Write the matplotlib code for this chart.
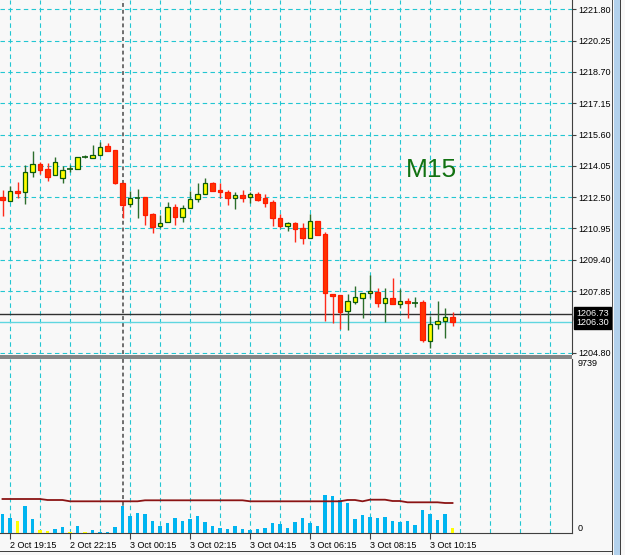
import numpy as np
import matplotlib.pyplot as plt
from matplotlib.patches import Rectangle
import matplotlib.transforms as mtransforms

# M15 bars, left to right
opens = [1212.51, 1212.32, 1212.81, 1212.74, 1213.73, 1214.13, 1213.88, 1213.58, 1213.43, 1213.88,
         1213.91, 1214.49, 1214.45, 1214.59, 1215.02, 1214.83, 1213.19, 1212.16, 1212.44, 1212.49,
         1211.65, 1211.07, 1211.26, 1212.00, 1211.53, 1211.95, 1212.39, 1212.64, 1213.19, 1212.85,
         1212.74, 1212.47, 1212.61, 1212.52, 1212.66, 1212.44, 1212.25, 1211.45, 1211.09, 1211.21,
         1210.96, 1210.46, 1211.33, 1210.68, 1207.69, 1207.66, 1206.88, 1207.32, 1207.49, 1207.74,
         1207.82, 1207.25, 1207.49, 1207.20, 1207.37, 1207.28, 1207.30, 1205.38, 1206.21, 1206.38,
         1206.55]
highs = [1212.85, 1213.05, 1213.27, 1214.09, 1214.80, 1214.23, 1214.18, 1214.47, 1214.04, 1214.09,
         1214.50, 1214.59, 1215.08, 1215.25, 1215.17, 1214.83, 1213.19, 1212.81, 1212.90, 1212.51,
         1211.70, 1211.62, 1212.28, 1212.15, 1212.11, 1212.81, 1213.19, 1213.43, 1213.24, 1213.19,
         1212.85, 1212.74, 1212.85, 1212.74, 1212.74, 1212.66, 1212.36, 1211.67, 1211.29, 1211.29,
         1211.24, 1211.67, 1211.33, 1210.79, 1207.69, 1207.66, 1207.69, 1208.12, 1207.77, 1208.65,
         1208.02, 1207.99, 1208.48, 1207.95, 1207.52, 1207.57, 1207.41, 1206.62, 1207.36, 1207.00,
         1206.80]
lows = [1211.57, 1212.32, 1212.46, 1212.15, 1213.51, 1213.63, 1213.31, 1213.58, 1213.22, 1213.76,
        1213.88, 1214.45, 1214.45, 1214.59, 1214.79, 1213.14, 1211.49, 1212.03, 1211.45, 1211.12,
        1210.71, 1210.99, 1211.26, 1211.12, 1211.29, 1211.95, 1212.25, 1212.64, 1212.81, 1212.44,
        1212.11, 1211.90, 1212.28, 1212.20, 1212.32, 1212.03, 1211.09, 1210.96, 1210.84, 1210.27,
        1210.18, 1210.46, 1210.63, 1206.38, 1206.26, 1205.97, 1205.92, 1207.20, 1206.50, 1207.49,
        1207.08, 1206.30, 1207.20, 1207.00, 1206.50, 1207.08, 1205.31, 1205.05, 1205.97, 1205.54,
        1206.12]
closes = [1212.36, 1212.81, 1212.72, 1213.73, 1214.13, 1213.86, 1213.51, 1214.23, 1213.83, 1213.88,
          1214.47, 1214.49, 1214.59, 1214.97, 1214.80, 1213.19, 1212.11, 1212.44, 1212.44, 1211.62,
          1211.04, 1211.21, 1212.00, 1211.53, 1211.95, 1212.39, 1212.64, 1213.19, 1212.82, 1212.74,
          1212.46, 1212.61, 1212.44, 1212.66, 1212.36, 1212.23, 1211.45, 1211.09, 1211.21, 1210.92,
          1210.46, 1211.33, 1210.63, 1207.74, 1207.62, 1206.83, 1207.36, 1207.57, 1207.77, 1207.87,
          1207.25, 1207.49, 1207.20, 1207.37, 1207.25, 1207.28, 1205.43, 1206.21, 1206.38, 1206.55,
          1206.30]
volumes = [1080, 840, 672, 1511, 784, 185, 129, 207, 353, 56,
           409, 56, 151, 39, 73, 353, 1528, 935, 1136, 1080,
           672, 409, 576, 840, 672, 784, 935, 616, 409, 297,
           241, 409, 241, 168, 207, 297, 576, 487, 297, 632,
           840, 543, 409, 2110, 2054, 1830, 1679, 784, 991, 912,
           840, 879, 672, 599, 688, 465, 1304, 1047, 744, 1047,
           297]
vol_ma = [1903, 1903, 1903, 1903, 1903, 1903, 1847, 1847, 1847, 1774,
          1774, 1774, 1774, 1774, 1774, 1774, 1774, 1774, 1774, 1830,
          1830, 1830, 1830, 1830, 1830, 1830, 1830, 1830, 1830, 1830,
          1830, 1830, 1830, 1774, 1774, 1774, 1774, 1774, 1774, 1774,
          1774, 1774, 1774, 1774, 1774, 1774, 1847, 1847, 1774, 1864,
          1864, 1864, 1791, 1791, 1718, 1718, 1718, 1718, 1718, 1679,
          1679]
yellow_vol = [2, 5, 6, 9, 11, 60]

time_ticks = [1, 9, 17, 25, 33, 41, 49, 57]
time_labels = ['2 Oct 19:15', '2 Oct 22:15', '3 Oct 00:15', '3 Oct 02:15',
               '3 Oct 04:15', '3 Oct 06:15', '3 Oct 08:15', '3 Oct 10:15']
price_ticks = [1221.80, 1220.25, 1218.70, 1217.15, 1215.60, 1214.05,
               1212.50, 1210.95, 1209.40, 1207.85, 1204.80]
day_start = 16
line_price = 1206.73
bid_price = 1206.30
vol_max = 9739

plt.rcParams['font.family'] = ['Liberation Sans', 'DejaVu Sans']
W, H = 625, 555
bg = '#f8f8f8'
cyan = '#22c6d2'
dash = (0, (4, 3))

def box(l, t, r, b):
    return [l / W, 1 - b / H, (r - l) / W, (b - t) / H]

fig = plt.figure(figsize=(W / 100, H / 100), dpi=100, facecolor=bg)
ax = fig.add_axes(box(0, 0, 572, 354), facecolor=bg)
ax2 = fig.add_axes(box(0, 359, 572, 533), facecolor=bg)

idx = np.arange(len(opens))
o = np.array(opens); h = np.array(highs); l = np.array(lows); c = np.array(closes)
up = c > o
dn = c < o
eq = c == o

xl = (-1 / 3, 75.93)
for a in (ax, ax2):
    a.set_xlim(*xl)
    for gx in range(1, 76, 4):
        a.axvline(gx, color=cyan, ls=dash, lw=0.8, zorder=0)
    a.axvline(day_start, color='#6e6e6e', ls=(0, (2, 1.5)), lw=1.4, zorder=1)
    a.spines['top'].set_visible(False)
    a.spines['left'].set_visible(False)
    a.spines['right'].set_color('#404040')
    a.yaxis.tick_right()

# price window
ax.set_ylim(1204.736, 1222.261)
ax.set_yticks(price_ticks)
ax.set_yticklabels(['%.2f' % p for p in price_ticks], fontsize=6.5)
ax.tick_params(axis='y', length=3, width=0.8, color='#404040', pad=1.5)
ax.grid(axis='y', color=cyan, ls=dash, lw=0.8)
ax.set_axisbelow(True)
ax.set_xticks([])
ax.spines['bottom'].set_visible(False)

ax.axhline(line_price, color='#303030', lw=1, zorder=2)
ax.axhline(bid_price, color='#5fd6e0', lw=1, zorder=2)

ax.vlines(idx[up | eq], l[up | eq], h[up | eq], color='#2c6e2c', lw=1, zorder=3)
ax.vlines(idx[dn], l[dn], h[dn], color='#ff2a1a', lw=1, zorder=3)
ax.bar(idx[up], (c - o)[up], bottom=o[up], width=0.62, color='#ffff00',
       edgecolor='#0b5a0b', lw=0.9, zorder=4)
ax.bar(idx[dn], (o - c)[dn], bottom=c[dn], width=0.62, color='#ff3300',
       edgecolor='#ff1a00', lw=0.9, zorder=4)
ax.hlines(c[eq], idx[eq] - 0.35, idx[eq] + 0.35, color='#0b5a0b', lw=1.2, zorder=4)

ax.text(0.754, 0.52, 'M15', transform=ax.transAxes, fontsize=19,
        color='#127212', ha='center', va='center')

# price boxes on the right scale
tr = mtransforms.blended_transform_factory(ax.transAxes, ax.transData)
for p in (line_price, bid_price):
    ax.text(1.0 + 4 / 572, p, '%.2f' % p, transform=tr, fontsize=6.5, color='white',
            va='center', ha='left', clip_on=False,
            bbox=dict(boxstyle='square,pad=0.25', fc='black', ec='black'))

# volume window
colors = ['#ffff00' if i in yellow_vol else '#00b4f0' for i in idx]
ax2.bar(idx, volumes, width=0.45, color=colors, zorder=3)
ax2.plot(idx, vol_ma, color='#8b1414', lw=1.3, zorder=4)
ax2.set_ylim(0, vol_max)
ax2.set_yticks([0, vol_max])
ax2.set_yticklabels(['0', str(vol_max)], fontsize=6.5)
ax2.get_yticklabels()[0].set_va('bottom')
ax2.get_yticklabels()[1].set_va('top')
ax2.tick_params(axis='y', length=0, pad=4)
ax2.spines['bottom'].set_color('#404040')
ax2.set_xticks(time_ticks)
ax2.set_xticklabels(time_labels, fontsize=6.5, ha='left')
ax2.tick_params(axis='x', length=4, width=0.8, color='#404040', pad=2)

# window separator, scrollbar and frame
fig.patches.append(Rectangle((0, 1 - 358.5 / H), 572 / W, 4 / H, transform=fig.transFigure,
                             fc='#858585', ec='none'))
fig.patches.append(Rectangle((612 / W, 0), 1.2 / W, 1, transform=fig.transFigure,
                             fc='#505050', ec='none'))
fig.patches.append(Rectangle((613.5 / W, 0), 6.5 / W, 1, transform=fig.transFigure,
                             fc='#b3d1ec', ec='none'))
fig.patches.append(Rectangle((620 / W, 0), 1.2 / W, 1, transform=fig.transFigure,
                             fc='#404040', ec='none'))
fig.patches.append(Rectangle((0, 1 - 552 / H), 613 / W, 1.2 / H, transform=fig.transFigure,
                             fc='#404040', ec='none'))

fig.savefig('out.png', dpi=100, facecolor=bg)
